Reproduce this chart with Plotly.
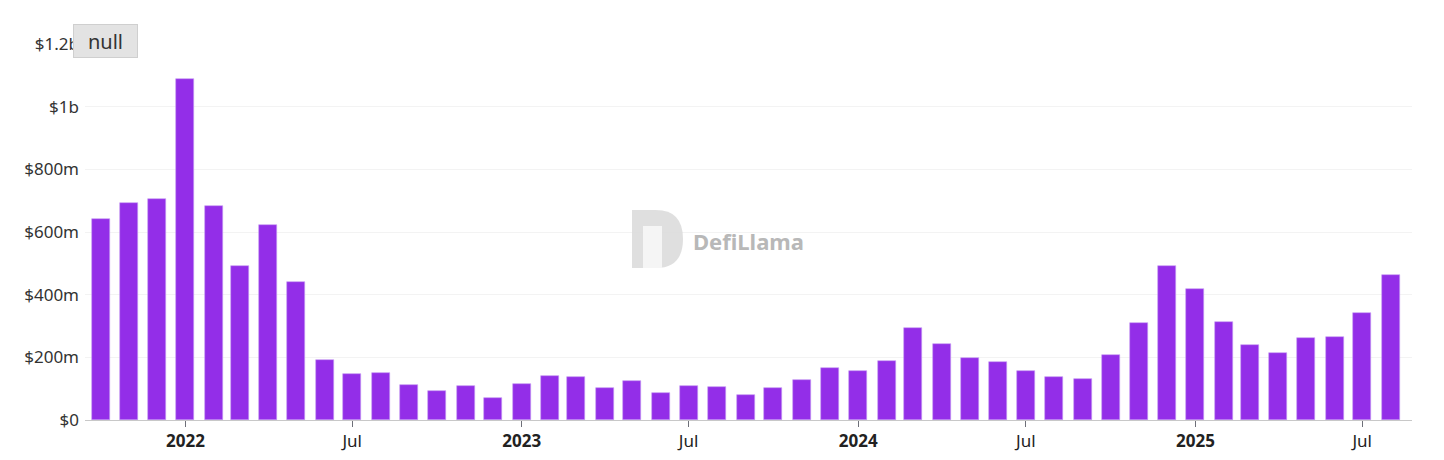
import pandas as pd
import plotly.graph_objects as go

# ---- data ----
start_month = "2021-10-01"
values_musd = [640, 694, 705, 1088, 684, 493, 621, 440, 190, 148, 151, 112,
               92, 108, 71, 116, 141, 138, 102, 125, 86, 110, 105, 80,
               101, 128, 167, 156, 187, 293, 243, 199, 186, 156, 138, 130,
               209, 308, 493, 419, 313, 240, 214, 262, 264, 342, 464]
months = pd.date_range(start_month, periods=len(values_musd), freq="MS")
values = [v * 1e6 for v in values_musd]

x_tick_dates = ["2022-01-01", "2022-07-01", "2023-01-01", "2023-07-01",
                "2024-01-01", "2024-07-01", "2025-01-01", "2025-07-01"]
x_tick_text = ["<b>2022</b>", "Jul", "<b>2023</b>", "Jul",
               "<b>2024</b>", "Jul", "<b>2025</b>", "Jul"]
y_tick_vals = [0, 200e6, 400e6, 600e6, 800e6, 1000e6, 1200e6]
y_tick_text = ["$0", "$200m", "$400m", "$600m", "$800m", "$1b", "$1.2b"]

FONT = "Noto Sans"
BAR = "#932ee8"
DAY_MS = 86400000

fig = go.Figure()
fig.add_trace(go.Bar(
    x=months, y=values,
    width=19.5 * DAY_MS,
    marker=dict(color=BAR, line=dict(color="#c69cf3", width=0.6)),
    hoverinfo="skip",
))

# page body has an 8px margin; compensate so the plot lands where the reference has it
fig.update_layout(
    width=1436, height=452,
    margin=dict(l=77, r=32, t=36, b=40),
    paper_bgcolor="#ffffff",
    plot_bgcolor="#ffffff",
    showlegend=False,
    font=dict(family=FONT, size=17, color="#333333"),
    bargap=0,
)

fig.update_xaxes(
    range=["2021-09-14", "2025-08-24"],
    tickvals=x_tick_dates, ticktext=x_tick_text,
    ticks="outside", ticklen=6, tickcolor="#6e7079", tickwidth=1,
    showline=True, linecolor="#c8c8c8", linewidth=1,
    showgrid=False, zeroline=False, automargin=False,
    tickfont=dict(family=FONT, size=17, color="#222222"),
)
fig.update_yaxes(
    range=[0, 1.2e9],
    tickvals=y_tick_vals, ticktext=y_tick_text,
    showgrid=True, gridcolor="#f3f3f3", gridwidth=1,
    zeroline=False, showline=False, automargin=False,
    ticks="", ticklabelstandoff=5,
    tickfont=dict(family=FONT, size=17, color="#333333"),
)

# watermark logo (approximate "D" shape) and text; coordinates in page pixels
px0, pw = 85, 1327
py0, ph = 420, 376
def px(x):
    return (x - px0) / pw
def py(y):
    return (py0 - y) / ph

x1, x2, yt, yb = 632, 656, 210, 268
path = (f"M {px(x1)},{py(yt)} L {px(x2)},{py(yt)} "
        f"Q {px(683)},{py(yt)} {px(683)},{py(239)} "
        f"Q {px(683)},{py(yb)} {px(x2)},{py(yb)} "
        f"L {px(x1)},{py(yb)} Z")
fig.add_shape(type="path", path=path, xref="paper", yref="paper",
              fillcolor="#dcdcdc", line=dict(width=0), layer="above", opacity=0.9)
fig.add_shape(type="rect", xref="paper", yref="paper",
              x0=px(643), x1=px(662), y0=py(268), y1=py(226),
              fillcolor="#f5f5f5", line=dict(width=0), layer="above")
fig.add_annotation(text="<b>DefiLlama</b>", xref="paper", yref="paper",
                   x=px(749), y=py(241), showarrow=False,
                   font=dict(family=FONT, size=22, color="#b8b8b8"))

# "null" tooltip box
fig.add_annotation(text="null", xref="paper", yref="paper",
                   x=px(105.5), y=py(41), xanchor="center", yanchor="middle",
                   showarrow=False, width=57, height=26,
                   bgcolor="#e3e3e3", bordercolor="#cfcfcf", borderwidth=1,
                   borderpad=3,
                   font=dict(family=FONT, size=20, color="#333333"))

fig.write_html("out.html")
